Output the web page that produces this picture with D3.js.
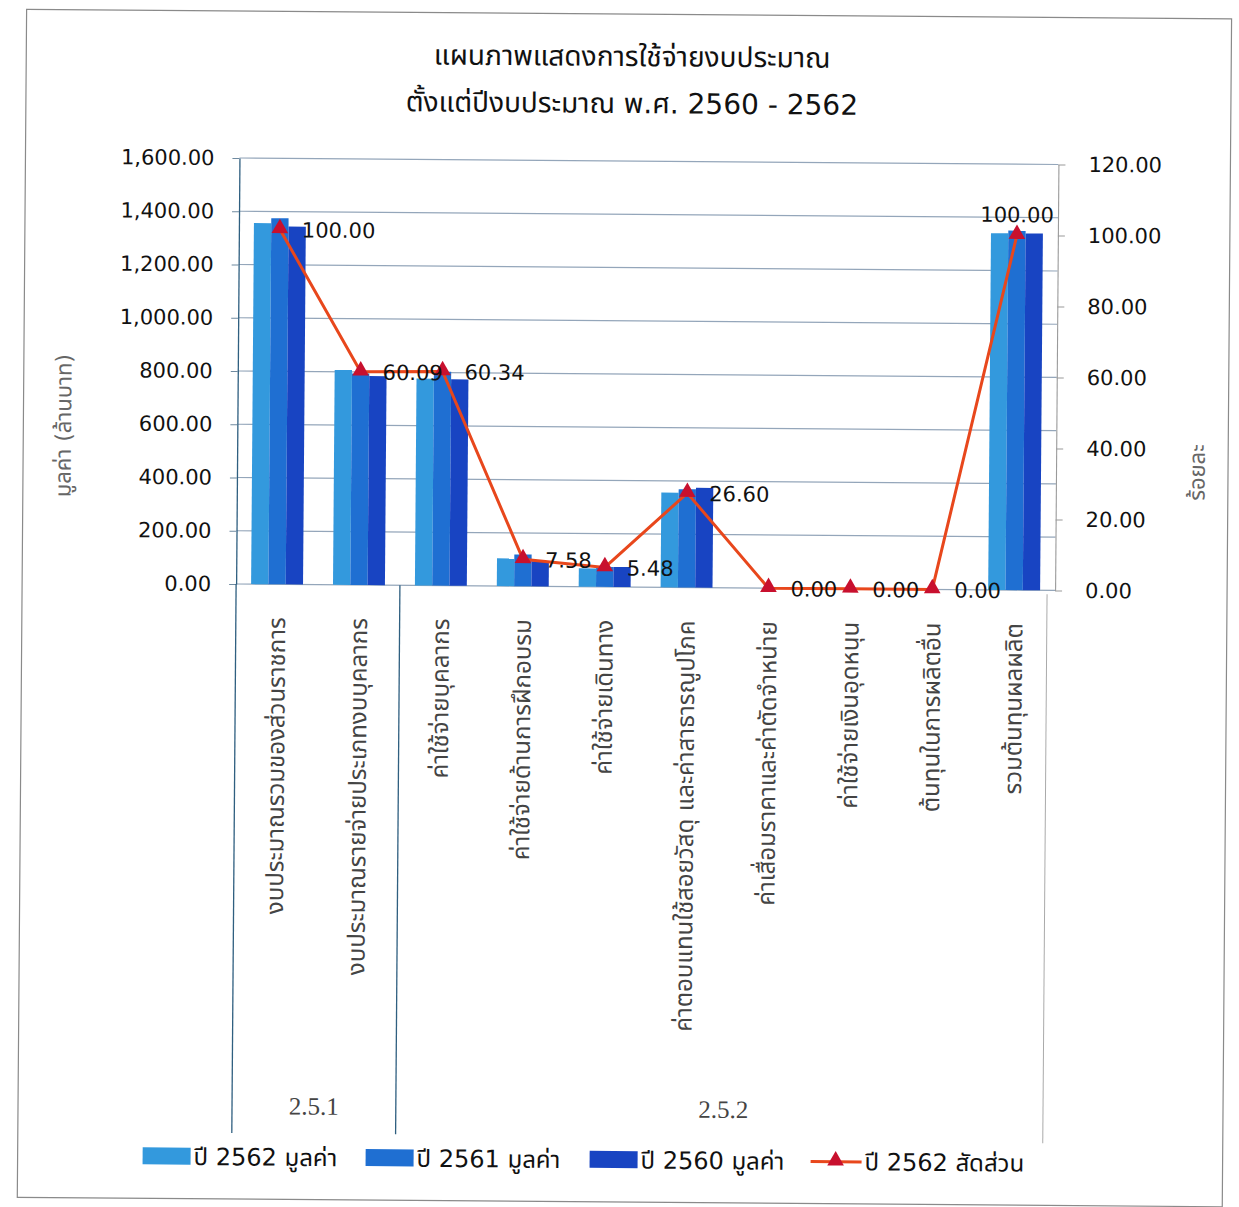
<!DOCTYPE html>
<html>
<head>
<meta charset="utf-8">
<script src="https://cdn.jsdelivr.net/npm/d3@7/dist/d3.min.js"></script>
<style>
  html, body { margin: 0; padding: 0; background: #fff; }
  svg { display: block; }
  text { font-family: "DejaVu Sans", "Noto Sans Thai", "Noto Sans", sans-serif; }
</style>
</head>
<body>
<svg id="chart" width="1239" height="1207"></svg>
<script>
// Budget items (x categories) and their groups
const categories = [
  "งบประมาณรวมของส่วนราชการ",
  "งบประมาณรายจ่ายประเภทงบบุคลากร",
  "ค่าใช้จ่ายบุคลากร",
  "ค่าใช้จ่ายด้านการฝึกอบรม",
  "ค่าใช้จ่ายเดินทาง",
  "ค่าตอบแทนใช้สอยวัสดุ และค่าสาธารณูปโภค",
  "ค่าเสื่อมราคาและค่าตัดจำหน่าย",
  "ค่าใช้จ่ายเงินอุดหนุน",
  "ต้นทุนในการผลิตอื่น",
  "รวมต้นทุนผลผลิต"
];
const groupNames = ["2.5.1", "2.5.2"];
const groupSizes = [2, 8];

// Values in million baht
const value2562 = [1356, 807, 777, 104, 69, 356, 0, 0, 0, 1340];
const value2561 = [1375, 794, 803, 119, 75, 369, 0, 0, 0, 1350];
const value2560 = [1344, 785, 775, 94, 75, 375, 0, 0, 0, 1340];
// Share in percent (2562)
const share2562 = [100.00, 60.09, 60.34, 7.58, 5.48, 26.60, 0.00, 0.00, 0.00, 100.00];

const seriesNames = ["ปี 2562 มูลค่า", "ปี 2561 มูลค่า", "ปี 2560 มูลค่า"];
const lineName = "ปี 2562 สัดส่วน";
const leftTicks = [0, 200, 400, 600, 800, 1000, 1200, 1400, 1600];
const rightTicks = [0, 20, 40, 60, 80, 100, 120];
const titleLines = ["แผนภาพแสดงการใช้จ่ายงบประมาณ", "ตั้งแต่ปีงบประมาณ พ.ศ. 2560 - 2562"];
const leftTitle = "มูลค่า (ล้านบาท)";
const rightTitle = "ร้อยละ";

const barColors = ["#3399dd", "#1f6fd2", "#1844c2"];
const lineColor = "#e8471c";
const markerColor = "#c8102e";

const svg = d3.select("#chart");
const root = svg.append("g").attr("transform", "rotate(0.45, 620, 600)");

// Frame
root.append("rect")
  .attr("x", 22).attr("y", 14).attr("width", 1205).attr("height", 1188)
  .attr("fill", "none").attr("stroke", "#8a8a8a").attr("stroke-width", 1.2);

const plot = { left: 236, right: 1055, top: 161, bottom: 587 };

const x = d3.scaleBand().domain(categories)
  .range([plot.left, plot.right]).paddingInner(0.366).paddingOuter(0.183);
const xs = d3.scaleBand().domain(seriesNames).range([0, x.bandwidth()]);
const yL = d3.scaleLinear().domain([0, 1600]).range([plot.bottom, plot.top]);
const yR = d3.scaleLinear().domain([0, 120]).range([plot.bottom, plot.top]);

// Title
root.append("g").selectAll("text").data(titleLines).join("text")
  .attr("x", 628).attr("y", (d, i) => 66 + i * 47)
  .attr("text-anchor", "middle").attr("font-size", 28).attr("fill", "#111")
  .text(d => d);

// Horizontal gridlines
root.append("g").selectAll("line").data(leftTicks).join("line")
  .attr("x1", plot.left).attr("x2", plot.right)
  .attr("y1", d => yL(d)).attr("y2", d => yL(d))
  .attr("stroke", "#94a6ba").attr("stroke-width", 1.1);

// Left axis
const axL = root.append("g").attr("transform", `translate(${plot.left},0)`)
  .call(d3.axisLeft(yL).tickValues(leftTicks).tickFormat(d3.format(",.2f"))
    .tickSizeInner(7).tickSizeOuter(0).tickPadding(18));
axL.select(".domain").attr("stroke", "#2f5f80").attr("stroke-width", 1.3);
axL.selectAll(".tick line").attr("stroke", "#6f8aa0");
axL.selectAll(".tick text").attr("font-size", 21).attr("fill", "#111");

// Right axis
const axR = root.append("g").attr("transform", `translate(${plot.right},0)`)
  .call(d3.axisRight(yR).tickValues(rightTicks).tickFormat(d3.format(".2f"))
    .tickSizeInner(7).tickSizeOuter(0).tickPadding(23));
axR.select(".domain").attr("stroke", "#9a9a9a").attr("stroke-width", 1.1);
axR.selectAll(".tick line").attr("stroke", "#9a9a9a");
axR.selectAll(".tick text").attr("font-size", 21).attr("fill", "#111");

// Bars
const rows = categories.map((c, i) => ({
  cat: c, vals: [value2562[i], value2561[i], value2560[i]]
}));
const barG = root.append("g");
rows.forEach(r => {
  barG.append("g").attr("transform", `translate(${x(r.cat)},0)`)
    .selectAll("rect").data(r.vals.map((v, k) => ({ v, k }))).join("rect")
    .attr("x", d => xs(seriesNames[d.k]))
    .attr("width", xs.bandwidth())
    .attr("y", d => yL(d.v))
    .attr("height", d => yL(0) - yL(d.v))
    .attr("fill", d => barColors[d.k]);
});

// Share line with triangle markers
const cx = c => x(c) + x.bandwidth() / 2;
const pts = categories.map((c, i) => ({ c, v: share2562[i], i }));
root.append("path").datum(pts)
  .attr("d", d3.line().x(d => cx(d.c)).y(d => yR(d.v)))
  .attr("fill", "none").attr("stroke", lineColor).attr("stroke-width", 3);
const tri = d3.symbol().type(d3.symbolTriangle).size(120);
root.append("g").selectAll("path").data(pts).join("path")
  .attr("d", tri)
  .attr("transform", d => `translate(${cx(d.c)},${yR(d.v) - 1})`)
  .attr("fill", markerColor);

// Data labels
const last = categories.length - 1;
root.append("g").selectAll("text").data(pts).join("text")
  .attr("x", d => d.i === last ? cx(d.c) : cx(d.c) + 22)
  .attr("y", d => d.i === last ? yR(d.v) - 13 : yR(d.v) + 8)
  .attr("text-anchor", d => d.i === last ? "middle" : "start")
  .attr("font-size", 21).attr("fill", "#111")
  .text(d => d3.format(".2f")(d.v));

// Category labels (rotated)
root.append("g").selectAll("text").data(categories).join("text")
  .attr("transform", d => `translate(${cx(d)},620) rotate(-90)`)
  .attr("text-anchor", "end").attr("dy", "0.35em")
  .attr("font-size", 24).attr("fill", "#444")
  .text(d => d);

// Multi-level category dividers and group labels
const groupBounds = [];
let start = 0;
groupSizes.forEach((n, g) => {
  const a = x.step() * start + plot.left;
  const b = x.step() * (start + n) + plot.left;
  groupBounds.push({ a, b, name: groupNames[g] });
  start += n;
});
const divG = root.append("g");
divG.append("line").attr("x1", plot.left).attr("x2", plot.left)
  .attr("y1", plot.bottom).attr("y2", 1136)
  .attr("stroke", "#2f5f80").attr("stroke-width", 1.3);
divG.append("line").attr("x1", groupBounds[0].b).attr("x2", groupBounds[0].b)
  .attr("y1", plot.bottom).attr("y2", 1136)
  .attr("stroke", "#2f5f80").attr("stroke-width", 1.3);
divG.append("line").attr("x1", plot.right - 8).attr("x2", plot.right - 8)
  .attr("y1", plot.bottom + 4).attr("y2", 1140)
  .attr("stroke", "#aaaaaa").attr("stroke-width", 1);
root.append("g").selectAll("text").data(groupBounds).join("text")
  .attr("x", d => (d.a + d.b) / 2).attr("y", 1117)
  .attr("text-anchor", "middle").attr("font-size", 25).attr("fill", "#444")
  .style("font-family", "'Liberation Serif', 'DejaVu Serif', serif")
  .text(d => d.name);

// Axis titles
root.append("text")
  .attr("transform", "translate(62,430) rotate(-90)")
  .attr("text-anchor", "middle").attr("dy", "0.35em")
  .attr("font-size", 22).attr("fill", "#666").text(leftTitle);
root.append("text")
  .attr("transform", "translate(1196,468) rotate(-90)")
  .attr("text-anchor", "middle").attr("dy", "0.35em")
  .attr("font-size", 22).attr("fill", "#666").text(rightTitle);

// Legend
const legend = root.append("g").attr("transform", "translate(0,1160)");
const legX = [147, 370, 594];
seriesNames.forEach((s, k) => {
  legend.append("rect").attr("x", legX[k]).attr("y", -9)
    .attr("width", 48).attr("height", 17).attr("fill", barColors[k]);
  legend.append("text").attr("x", legX[k] + 51).attr("y", 0).attr("dy", "0.35em")
    .attr("font-size", 24).attr("fill", "#111").text(s);
});
legend.append("line").attr("x1", 815).attr("x2", 866).attr("y1", 0).attr("y2", 0)
  .attr("stroke", lineColor).attr("stroke-width", 3);
legend.append("path").attr("d", tri).attr("transform", "translate(840,-1)").attr("fill", markerColor);
legend.append("text").attr("x", 869).attr("y", 0).attr("dy", "0.35em")
  .attr("font-size", 24).attr("fill", "#111").text(lineName);
</script>
</body>
</html>
